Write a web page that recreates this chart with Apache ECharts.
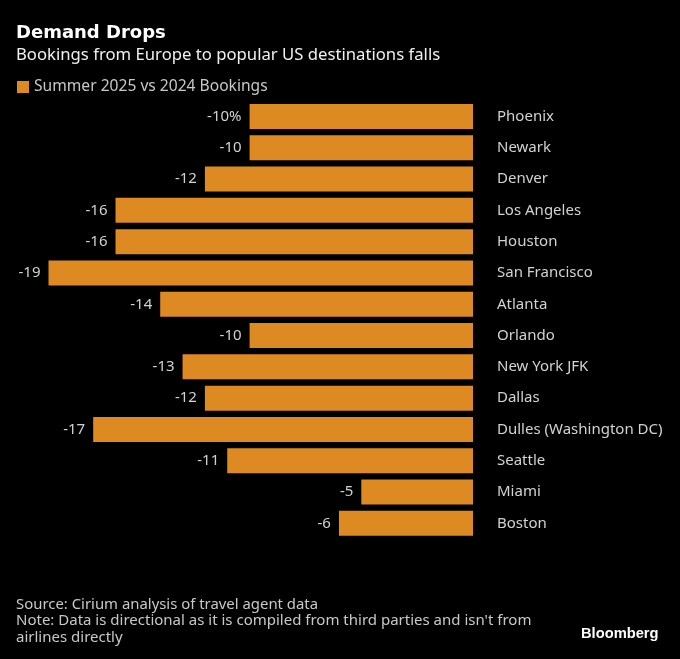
<!DOCTYPE html>
<html><head><meta charset="utf-8">
<style>html,body{margin:0;padding:0;background:#000}#c{width:680px;height:659px}</style>
<script src="https://cdn.jsdelivr.net/npm/echarts@6/dist/echarts.min.js"></script>
</head><body><div id="c"></div>
<script>
const categories = ["Phoenix","Newark","Denver","Los Angeles","Houston","San Francisco","Atlanta","Orlando","New York JFK","Dallas","Dulles (Washington DC)","Seattle","Miami","Boston"];
const values = [-10,-10,-12,-16,-16,-19,-14,-10,-13,-12,-17,-11,-5,-6];
const seriesName = "Summer 2025 vs 2024 Bookings";
const F = "'Noto Sans'";
const chart = echarts.init(document.getElementById('c'), null, {renderer:'canvas'});
chart.setOption({
  backgroundColor:'#000',
  animation:false,
  textStyle:{fontFamily:F},
  title:[
    {text:"Demand Drops",left:16,top:24,padding:0,textStyle:{color:'#fff',fontSize:18,fontWeight:'bold',fontFamily:"'DejaVu Sans'"}},
    {text:"Bookings from Europe to popular US destinations falls",left:16,top:47,padding:0,textStyle:{color:'#f0f0f0',fontSize:16.7,fontWeight:'normal',fontFamily:F}},
    {text:"Source: Cirium analysis of travel agent data",left:16,top:597,padding:0,textStyle:{color:'#c8c8c8',fontSize:14.9,fontWeight:'normal',fontFamily:F}},
    {text:"Note: Data is directional as it is compiled from third parties and isn't from",left:16,top:613,padding:0,textStyle:{color:'#c8c8c8',fontSize:15,fontWeight:'normal',fontFamily:F}},
    {text:"airlines directly",left:16,top:630,padding:0,textStyle:{color:'#c8c8c8',fontSize:15,fontWeight:'normal',fontFamily:F}},
    {text:"Bloomberg",left:581,top:626,padding:0,textStyle:{color:'#fff',fontSize:14.7,fontWeight:'bold',fontFamily:"'Liberation Sans'"}}
  ],
  legend:{left:17,top:79,padding:0,icon:'rect',itemWidth:12,itemHeight:12,itemGap:5,
    data:[seriesName],selectedMode:false,
    textStyle:{color:'#c8c8c8',fontSize:15.6,fontFamily:F,padding:[0,0,0,0]}},
  grid:{left:48.5,right:207,top:100.8,height:438.2,containLabel:false},
  xAxis:{type:'value',min:-19,max:0,show:false},
  yAxis:{type:'category',data:categories,inverse:true,position:'right',
    axisLine:{show:false},axisTick:{show:false},splitLine:{show:false},
    axisLabel:{color:'#d2d2d2',fontSize:15,margin:24,align:'left',fontFamily:F}},
  series:[{
    name:seriesName,type:'bar',data:values,barWidth:25,
    itemStyle:{color:'#DD8A22'},
    label:{show:true,position:'left',distance:8,color:'#d2d2d2',fontSize:15,fontFamily:F,
      formatter:p=>p.dataIndex===0?p.value+'%':String(p.value)}
  }]
});
</script></body></html>
